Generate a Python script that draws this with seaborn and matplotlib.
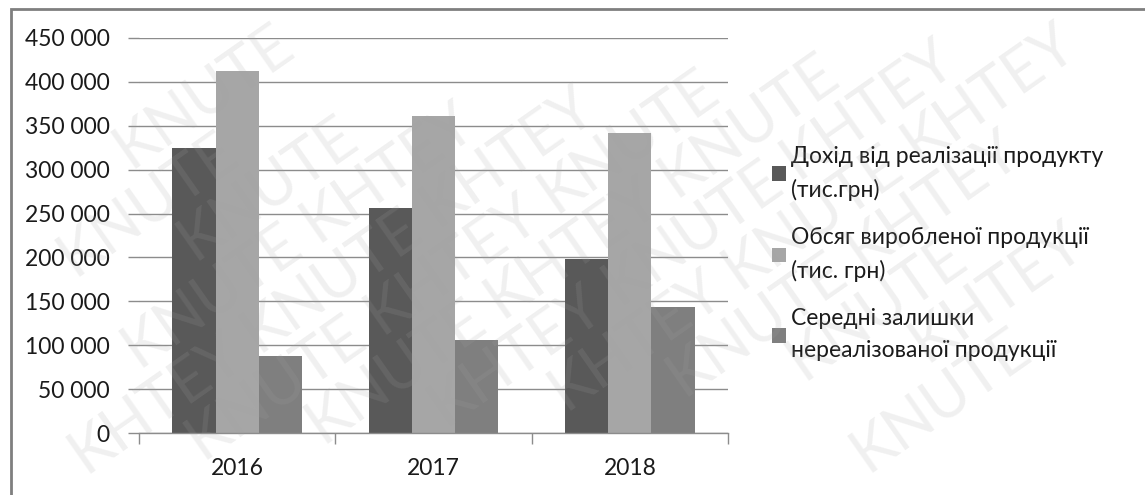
import numpy as np
import pandas as pd
import matplotlib
matplotlib.use("Agg")
import matplotlib.pyplot as plt
from matplotlib.ticker import FuncFormatter, FixedLocator
from matplotlib.patches import Patch, Rectangle
import seaborn as sns

years = ["2016", "2017", "2018"]
series_names = [
    "Дохід від реалізації продукту\n(тис.грн)",
    "Обсяг виробленої продукції\n(тис. грн)",
    "Середні залишки\nнереалізованої продукції",
]
income = [325000, 256000, 198000]
volume = [412000, 361000, 342000]
stock = [88000, 106000, 144000]
colors = ["#595959", "#a6a6a6", "#7f7f7f"]
y_ticks = [0, 50000, 100000, 150000, 200000, 250000, 300000, 350000, 400000, 450000]
watermark_words = ["KHTEY", "KNUTE"]

df = pd.DataFrame({
    "year": years * 3,
    "series": [series_names[0]] * 3 + [series_names[1]] * 3 + [series_names[2]] * 3,
    "value": income + volume + stock,
})

sns.set_theme(style="white")
plt.rcParams["font.family"] = ["Lato", "DejaVu Sans"]

W, H = 1145, 495
fig = plt.figure(figsize=(W / 100, H / 100), dpi=100)
ax = fig.add_axes([139 / W, 1 - 433 / H, (728 - 139) / W, (433 - 38) / H])

sns.barplot(data=df, x="year", y="value", hue="series", palette=colors,
            width=0.662, gap=0, ax=ax, legend=False, saturation=1,
            edgecolor="none", linewidth=0)

ax.set_xlim(-0.5, 2.5)
ax.set_ylim(0, 450000)
ax.yaxis.set_major_locator(FixedLocator(y_ticks))
ax.yaxis.set_major_formatter(FuncFormatter(lambda v, p: f"{v:,.0f}".replace(",", " ")))
ax.grid(axis="y", color="#8c8c8c", linewidth=1.0)
ax.set_axisbelow(True)
ax.set_xlabel("")
ax.set_ylabel("")
for s in ["top", "right", "left"]:
    ax.spines[s].set_visible(False)
ax.spines["bottom"].set_color("#8c8c8c")
ax.spines["bottom"].set_linewidth(1.0)

ax.tick_params(axis="y", which="major", length=8, width=1.0, color="#8c8c8c",
               labelsize=16.5, labelcolor="#1a1a1a", pad=13, left=True)
ax.set_xticks([-0.5, 0.5, 1.5, 2.5], minor=True)
ax.tick_params(axis="x", which="minor", length=8, width=1.0, color="#8c8c8c", bottom=True)
ax.tick_params(axis="x", which="major", length=0, labelsize=16.5, labelcolor="#1a1a1a", pad=18)

handles = [Patch(facecolor=c, edgecolor="none") for c in colors]
leg = fig.legend(handles, series_names, loc="upper left",
                 bbox_to_anchor=(772 / W, 1 - 146 / H), frameon=False,
                 borderpad=0, borderaxespad=0,
                 fontsize=16.5, handlelength=0.62, handleheight=0.62,
                 handletextpad=0.2, labelspacing=1.15)
for t in leg.get_texts():
    t.set_color("#1a1a1a")
    t.set_linespacing(1.65)

# outer chart border (top and left visible)
fig.patches.append(Rectangle((11 / W, -0.1), 1.2, (1 - 9 / H) + 0.1,
                             transform=fig.transFigure, fill=False,
                             edgecolor="#7f7f7f", linewidth=2.0, zorder=0))

# watermark: individual words along diagonal rows, kept only if fully inside
ang = 35
d = np.deg2rad(ang)
ux, uy = np.cos(d), np.sin(d)
px, py = -np.sin(d), np.cos(d)
step_along = 215
step_perp = 56
wm = []
for k in range(-16, 16):
    shift = (k % 2) * step_along / 2
    for j in range(-12, 12):
        s = j * step_along + shift
        cx = 572 + s * ux + k * step_perp * px
        cy = 247 + s * uy + k * step_perp * py
        if -200 < cx < W + 200 and -200 < cy < H + 200:
            word = watermark_words[(j + k) % 2]
            t = fig.text(cx / W, cy / H, word, rotation=0, rotation_mode="anchor",
                         ha="center", va="center", fontsize=44, color="#a5a5a5",
                         alpha=0.16, fontweight="normal", zorder=10)
            wm.append((t, cx, cy))

fig.canvas.draw()
r = fig.canvas.get_renderer()
for t, cx, cy in wm:
    bb = t.get_window_extent(r)
    hw, hh = bb.width / 2, bb.height / 2
    xs = [cx + a * hw * ux + b * hh * px for a in (-1, 1) for b in (-1, 1)]
    ys = [cy + a * hw * uy + b * hh * py for a in (-1, 1) for b in (-1, 1)]
    if min(xs) < 6 or min(ys) < 6 or max(xs) > W - 6 or max(ys) > H - 6:
        t.remove()
    else:
        t.set_rotation(ang)

fig.savefig("out.png", dpi=100, facecolor="white")
